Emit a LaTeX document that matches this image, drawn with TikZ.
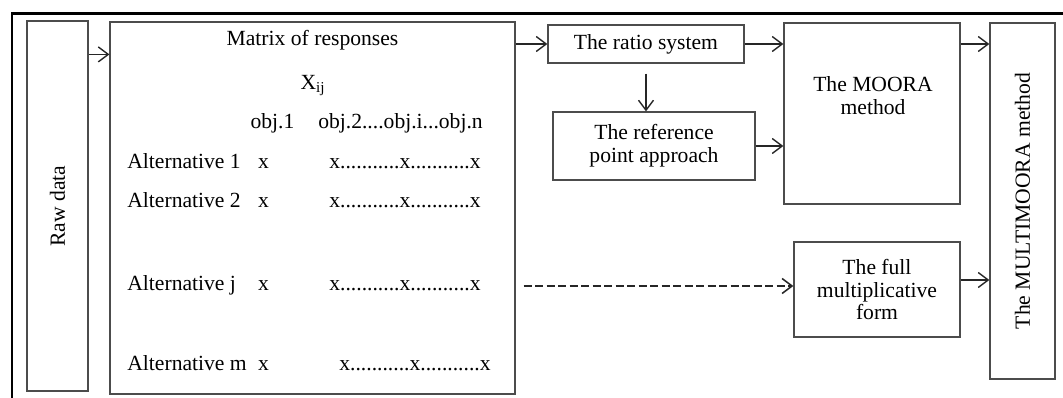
\documentclass[tikz,border=0pt]{standalone}
\usepackage{fontspec}
\setmainfont{Liberation Serif}
\usetikzlibrary{arrows.meta}

\tikzset{
    box/.style={draw=black!70, line width=0.7pt, inner sep=2pt, align=center},
    arr/.style={draw=black!85, line width=0.8pt, -{Straight Barb[length=2mm, width=3mm]}},
    txt/.style={inner sep=0pt, align=center},
    cell/.style={inner sep=0pt, text height=1.6ex, text depth=0.1ex}
}

\begin{document}
\begin{tikzpicture}[x=0.02cm, y=-0.02cm, font=\fontsize{12.3}{13}\selectfont]
            \useasboundingbox (0, 0) rectangle (1063, 398);
            \draw[line width=1.2pt] (12, 398) -- (12, 13.5) -- (1063, 13.5);

            % boxes
            \node[box, minimum width=1.22cm, minimum height=7.4cm] (raw) at (57.5, 206) {};
            \node[txt, rotate=90] (rawtext) at (raw.center) {Raw data};
            \node[box, minimum width=8.1cm, minimum height=7.44cm] (mat) at (312.5, 208) {};
            \node[box, minimum width=3.92cm, minimum height=0.76cm] (ratio) at (646, 44) {The ratio system};
            \node[box, minimum width=4.04cm, minimum height=1.36cm] (ref) at (654, 146) {The reference\\point approach};
            \node[box, minimum width=3.52cm, minimum height=3.62cm] (moora) at (872, 113.5) {};
            \node[txt] (mooratext) at (873, 96) {The MOORA\\method};
            \node[box, minimum width=3.32cm, minimum height=1.9cm] (full) at (877, 289.5) {The full\\multiplicative\\form};
            \node[box, minimum width=1.3cm, minimum height=7.12cm] (multi) at (1022.5, 201) {};
            \node[txt, rotate=90] (multitext) at (multi.center) {The MULTIMOORA method};

            % matrix of responses
            \node[cell] (title) at (312.5, 39) {Matrix of responses};
            \node[cell] (xij) at (313, 83) {X\textsubscript{ij}};
            \node[cell] (obj1) at (272.5, 122) {obj.1};
            \node[cell] (objn) at (400.5, 122) {obj.2....obj.i...obj.n};
            \foreach \y/\k/\s in {162/1/405, 201/2/405, 284/j/405, 364/m/415} {
                \node[cell, anchor=west] (alt\k) at (127, \y) {Alternative \k};
                \node[cell] (xa\k) at (263.5, \y) {x};
                \node[cell] (xr\k) at (\s, \y) {x...........x...........x};
            }

            % connectors
            \draw[arr] ([yshift=-0.68cm]raw.north east) coordinate (a1) -- (a1 -| mat.west);
            \draw[arr] (ratio.west -| mat.east) -- (ratio.west);
            \draw[arr] (ratio.east) -- (ratio.east -| moora.west);
            \draw[arr, shorten <=0.2cm] (ratio.south) -- (ratio.south |- ref.north);
            \draw[arr] (ref.east) -- (ref.east -| moora.west);
            \draw[arr] (ratio.east -| moora.east) -- (ratio.east -| multi.west);
            \draw[arr] ([yshift=0.19cm]full.east) coordinate (a2) -- (a2 -| multi.west);
            \coordinate (a3) at ([yshift=0.07cm]full.west);
            \draw[arr, line width=0.9pt, dash pattern=on 1.6mm off 0.7mm, shorten <=0.16cm] (a3 -| mat.east) -- (a3);
        \end{tikzpicture}
\end{document}
